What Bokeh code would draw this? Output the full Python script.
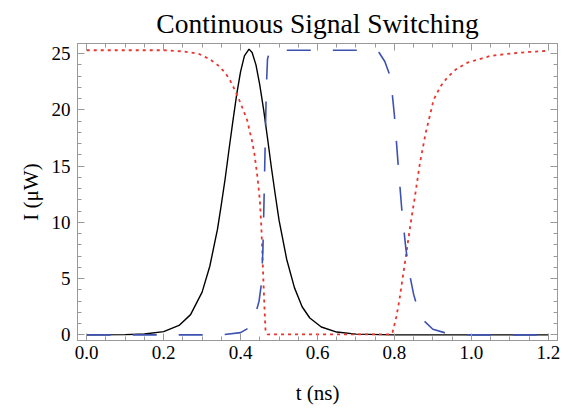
from bokeh.plotting import figure
from bokeh.models import FixedTicker, LinearAxis, Range1d, CustomJSTickFormatter
from bokeh.embed import file_html
from bokeh.resources import INLINE

# Black (solid) pulse
t_black = [0.0, 0.10, 0.15, 0.20, 0.24, 0.27, 0.30, 0.32, 0.34, 0.35, 0.36, 0.37, 0.38, 0.39,
           0.40, 0.41, 0.422, 0.43, 0.44, 0.45, 0.46, 0.47, 0.48, 0.49, 0.50, 0.52, 0.54,
           0.56, 0.58, 0.61, 0.65, 0.70, 0.80, 1.20]
i_black = [0.0, 0.02, 0.08, 0.29, 0.84, 1.8, 3.8, 6.1, 9.4, 11.6, 13.9, 16.5, 19.0, 21.4,
           23.4, 24.8, 25.4, 25.1, 24.0, 22.2, 20.0, 17.5, 14.9, 12.5, 10.2, 6.7, 4.2,
           2.5, 1.5, 0.7, 0.25, 0.07, 0.0, 0.0]

# Red (dotted) signal
t_red = [0.0, 0.10, 0.20, 0.25, 0.29, 0.32, 0.34, 0.36, 0.373, 0.386, 0.40, 0.417, 0.43,
         0.436, 0.444, 0.45, 0.454, 0.459, 0.462, 0.465, 0.47, 0.79, 0.795, 0.805, 0.813,
         0.822, 0.832, 0.842, 0.852, 0.866, 0.881, 0.902, 0.92, 0.938, 0.96, 0.99, 1.02,
         1.05, 1.10, 1.15, 1.20]
i_red = [25.3, 25.3, 25.3, 25.2, 25.0, 24.5, 24.0, 23.3, 22.6, 21.7, 20.6, 19.1, 17.2,
         16.1, 14.0, 12.0, 9.6, 5.1, 2.5, 0.3, 0.05, 0.05, 0.2, 1.6, 3.1,
         5.2, 7.5, 9.9, 12.0, 15.2, 17.9, 20.9, 22.1, 22.9, 23.6, 24.2, 24.5,
         24.8, 25.0, 25.15, 25.25]

# Blue (dashed) signal
t_blue = [0.0, 0.35, 0.40, 0.42, 0.43, 0.44, 0.448, 0.454, 0.458, 0.461, 0.464, 0.467,
          0.47, 0.475, 0.48, 0.74, 0.76, 0.775, 0.79, 0.80, 0.81, 0.82, 0.83, 0.84, 0.85,
          0.86, 0.875, 0.90, 0.93, 0.96, 1.0, 1.20]
i_blue = [0.0, 0.0, 0.2, 0.6, 1.2, 2.0, 3.0, 4.5, 7.5, 12.0, 17.0, 22.0,
          24.5, 25.2, 25.3, 25.3, 25.1, 24.3, 22.9, 19.5, 15.0, 10.8, 7.6, 5.3, 3.6,
          2.4, 1.3, 0.5, 0.2, 0.05, 0.0, 0.0]

x_ticks = [0.0, 0.2, 0.4, 0.6, 0.8, 1.0, 1.2]
x_minor = [round(0.05 * k, 2) for k in range(0, 25)]
y_ticks = [0, 5, 10, 15, 20, 25]
y_minor = list(range(0, 26))

FONT = "Liberation Serif"
GRAY = "#9a9a9a"

p = figure(frame_width=480, frame_height=297, output_backend="svg", toolbar_location=None,
           x_range=Range1d(-0.024, 1.224), y_range=Range1d(-0.5, 25.9),
           min_border_left=77, min_border_right=12, min_border_top=43, min_border_bottom=70,
           title="Continuous Signal Switching")

p.title.align = "center"
p.title.text_font = FONT
p.title.text_font_size = "27.5px"
p.title.text_font_style = "normal"
p.title.text_color = "black"

p.grid.visible = False
p.outline_line_color = GRAY
p.outline_line_width = 1
p.background_fill_color = "white"
p.border_fill_color = "white"

xb = p.xaxis[0]
yl = p.yaxis[0]
xb.axis_label = "t (ns)"
yl.axis_label = "I (μW)"

def style_axis(ax, ticks, minor, labels=True):
    ax.ticker = FixedTicker(ticks=ticks, minor_ticks=minor)
    ax.axis_line_color = GRAY
    ax.major_tick_line_color = GRAY
    ax.minor_tick_line_color = GRAY
    ax.major_tick_in = 7
    ax.major_tick_out = 0
    ax.minor_tick_in = 4
    ax.minor_tick_out = 0
    ax.major_label_text_font = FONT
    ax.major_label_text_font_size = "19px"
    ax.major_label_text_font_style = "normal"
    ax.major_label_text_color = "black"
    ax.axis_label_text_font = FONT
    ax.axis_label_text_font_size = "21px"
    ax.axis_label_text_font_style = "normal"
    ax.axis_label_text_color = "black"
    if not labels:
        ax.major_label_text_font_size = "0px"
        ax.major_label_text_color = None
        ax.major_label_standoff = 0
        ax.axis_label = None

style_axis(xb, x_ticks, x_minor)
style_axis(yl, y_ticks, y_minor)
xb.formatter = CustomJSTickFormatter(code="return tick.toFixed(1);")
xb.major_label_standoff = 5
xb.axis_label_standoff = 19
yl.major_label_standoff = 7
yl.axis_label_standoff = 6

top = LinearAxis()
style_axis(top, x_ticks, x_minor, labels=False)
p.add_layout(top, "above")
right = LinearAxis()
style_axis(right, y_ticks, y_minor, labels=False)
p.add_layout(right, "right")

p.line(t_black, i_black, line_color="black", line_width=1.4)
p.line(t_red, i_red, line_color="#e8352e", line_width=1.8, line_dash="3 4")
p.line(t_blue, i_blue, line_color="#3d52b0", line_width=1.6, line_dash="24 22")

open("out.html", "w").write(file_html(p, INLINE))
